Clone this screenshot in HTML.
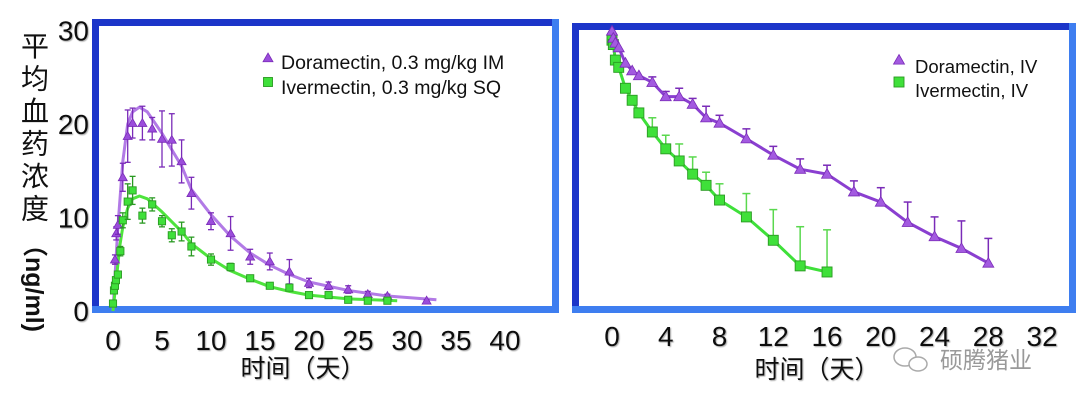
<!DOCTYPE html>
<html><head><meta charset="utf-8"><style>
body{margin:0;background:#fff;width:1080px;height:407px;overflow:hidden}
svg{display:block}
text{font-family:"Liberation Sans","Noto Sans CJK SC",sans-serif}
</style></head><body>
<svg id="c" width="1080" height="407" viewBox="0 0 1080 407">
<defs><filter id="sh" x="-20%" y="-20%" width="140%" height="140%"><feDropShadow dx="1" dy="1" stdDeviation="0.6" flood-color="#888" flood-opacity="0.7"/></filter></defs>
<g id="left"></g>
<g id="right"></g>
</svg>
<script>
// ---- Left chart data (IM / SQ) ----
const L_xTicks=[0,5,10,15,20,25,30,35,40];
const L_yTicks=[0,10,20,30];
const doraT=[0.2,0.33,0.5,1,1.5,2,3,4,5,6,7,8,10,12,14,16,18,20,22,24,26,28,32];
const doraV=[5.5,8.3,9.2,14.3,18.7,20.1,20.1,19.5,18.4,18.3,16,12.6,9.6,8.3,5.8,5.3,4.2,3,2.7,2.3,1.8,1.6,1.1];
const doraE=[0.5,0.7,1,1.5,2.8,1.6,1.8,1.2,3,2.8,2.3,1.7,0.9,1.8,0.8,0.9,1.3,0.5,0.4,0.4,0.3,0.2,0.1];
const iverT=[0,0.1,0.2,0.3,0.5,0.75,1,1.5,2,3,4,5,6,7,8,10,12,14,16,18,20,22,24,26,28];
const iverV=[0.8,2.2,2.7,3.3,3.9,6.4,9.7,11.7,12.9,10.2,11.4,9.6,8.1,8.5,6.9,5.5,4.7,3.5,2.7,2.5,1.7,1.7,1.2,1.1,1.1];
const iverE=[0.1,0.2,0.2,0.3,0.3,0.5,0.8,1.9,1.5,0.8,0.7,0.6,0.7,1.0,1.0,0.6,0.4,0.2,0.1,0.1,0.1,0.1,0.1,0.1,0.1];
const doraFitT=[0,0.5,1,1.5,2,2.7,3.5,5,7,8,10,12,14,16,18,20,24,28,33];
const doraFitV=[0,9,16,20,21.3,21.8,21.3,19,15.5,13,10.3,8,6.2,4.9,3.9,3.1,2.2,1.6,1.2];
const iverFitT=[0,0.3,0.7,1,1.5,2,2.7,3.5,5,7,8,10,12,14,16,18,20,24,29];
const iverFitV=[0,3,7,9,11,12,12.3,12,10.6,8.5,7.2,5.6,4.3,3.4,2.6,2.1,1.7,1.3,1.1];
// ---- Right chart data (IV, log scale) ----
const R_xTicks=[0,4,8,12,16,20,24,28,32];
const doraIvT=[0,0.1,0.25,0.5,1,1.5,2,3,4,5,6,7,8,10,12,14,16,18,20,22,24,26,28];
const doraIvV=[100,89,82,76,59,52,48,43,34,34,30,24,22,17,13,10.3,9.5,7.1,6.0,4.3,3.4,2.8,2.2];
const doraIvUp=[null,null,null,null,null,null,null,47,37,39,33,29,25,20,15,12.2,11,8.5,7.6,6,4.7,4.4,3.3];
const iverIvT=[0,0.1,0.25,0.5,1,1.5,2,3,4,5,6,7,8,10,12,14,16];
const iverIvV=[86,80,62,55,39,32,26,19,14.4,11.8,9.5,7.9,6.2,4.7,3.2,2.1,1.9];
const iverIvUp=[null,null,null,null,null,null,null,24,18,15.6,12.6,9.8,8.1,6.9,5.3,4.0,3.8];

const NS="http://www.w3.org/2000/svg";
function mk(p,tag,a){const e=document.createElementNS(NS,tag);for(const k in a)e.setAttribute(k,a[k]);p.appendChild(e);return e;}
const PUR="#9b4ddb",PURD="#7a2bb8",GRN="#3fe03a",GRND="#2a9a22";

function frame(g,x0,y0,x1,y1){
  mk(g,'rect',{x:x0,y:y0,width:x1-x0,height:y1-y0,fill:'#fff'});
  const f=mk(g,'path',{d:`M${x0+3.5} ${y1-3.5}V${y0+3.5}H${x1-3.5}`,fill:'none',stroke:'#1c35c9','stroke-width':7});
  
  const b=mk(g,'path',{d:`M${x0} ${y1-3.5}H${x1-3.5}V${y0}`,fill:'none',stroke:'#3e7ef0','stroke-width':7});
  
}
function tri(g,x,y,c,s){return mk(g,'path',{d:`M${x} ${y-s}L${x+s} ${y+s*0.75}L${x-s} ${y+s*0.75}Z`,fill:c,stroke:PURD,'stroke-width':0.8});}
function sq(g,x,y,s){return mk(g,'rect',{x:x-s,y:y-s,width:2*s,height:2*s,fill:GRN,stroke:GRND,'stroke-width':0.9});}

// LEFT
const gl=document.getElementById('left');
frame(gl,92,19,559,313);
const lx=t=>113+t*9.8, ly=v=>311-v*9.35;
L_yTicks.forEach(v=>{const t=mk(gl,'text',{x:89,y:ly(v)+10,'text-anchor':'end','font-size':28,fill:'#111',filter:'url(#sh)'});t.textContent=v;
 });
L_xTicks.forEach(v=>{const t=mk(gl,'text',{x:lx(v),y:350,'text-anchor':'middle','font-size':28,fill:'#111',filter:'url(#sh)'});t.textContent=v;
 });
function curve(g,T,V,c,fx,fy,name){const p=mk(g,'polyline',{points:T.map((t,i)=>fx(t)+','+fy(V[i])).join(' '),fill:'none',stroke:c,'stroke-width':3,'stroke-linejoin':'round'});
 }
curve(gl,doraFitT,doraFitV,'#b27ae6',lx,ly,'doramectin-fit-curve');
curve(gl,iverFitT,iverFitV,'#4ee43c',lx,ly,'ivermectin-fit-curve');
function ebar(g,x,y1,y2,c){mk(g,'line',{x1:x,y1:y1,x2:x,y2:y2,stroke:c,'stroke-width':1.3});
 mk(g,'line',{x1:x-3,y1:y1,x2:x+3,y2:y1,stroke:c,'stroke-width':1.3});mk(g,'line',{x1:x-3,y1:y2,x2:x+3,y2:y2,stroke:c,'stroke-width':1.3});}
doraT.forEach((t,i)=>{ebar(gl,lx(t),ly(doraV[i]+doraE[i]),ly(doraV[i]-doraE[i]),PURD);
 const m=tri(gl,lx(t),ly(doraV[i]),PUR,4.5);});
iverT.forEach((t,i)=>{ebar(gl,lx(t),ly(iverV[i]+iverE[i]),ly(iverV[i]-iverE[i]),GRND);
 const m=sq(gl,lx(t),ly(iverV[i]),3.6);});
// legend left
let lg=mk(gl,'g',{});
tri(lg,268,58,PUR,5);
let tt=mk(lg,'text',{x:281,y:69,'font-size':19.5,fill:'#111'});tt.textContent='Doramectin, 0.3 mg/kg IM';
sq(lg,268,82,4.5);
tt=mk(lg,'text',{x:281,y:94,'font-size':19.5,fill:'#111'});tt.textContent='Ivermectin, 0.3 mg/kg SQ';
// y axis title
let yt=mk(gl,'g',{});
['平','均','血','药','浓','度'].forEach((ch,i)=>{const t=mk(yt,'text',{x:35,y:56+i*32.5,'text-anchor':'middle','font-size':28,fill:'#111','font-family':'"Noto Serif CJK SC","Noto Sans CJK SC",serif'});t.textContent=ch;});
let u=mk(yt,'text',{x:0,y:0,transform:'translate(26,282) rotate(90)','text-anchor':'middle','font-size':25,'font-weight':'bold',fill:'#111','font-family':'"Liberation Serif","Noto Serif CJK SC",serif'});u.textContent='（ng/ml)';
let xt=mk(gl,'text',{x:303,y:377,'text-anchor':'middle','font-size':25,fill:'#111',filter:'url(#sh)'});xt.textContent='时间（天）';


// RIGHT
const gr=document.getElementById('right');
frame(gr,572,23,1076,313);
const rx=t=>612+t*13.44, ry=v=>311-Math.log10(v)*140;
R_xTicks.forEach(v=>{const t=mk(gr,'text',{x:rx(v),y:346,'text-anchor':'middle','font-size':28,fill:'#111',filter:'url(#sh)'});t.textContent=v;
 });
function series(T,V,UP,c,cd,name,marker){
 T.forEach((t,i)=>{if(UP[i]!=null){mk(gr,'line',{x1:rx(t),y1:ry(UP[i]),x2:rx(t),y2:ry(V[i]),stroke:cd,'stroke-width':1.5});
  mk(gr,'line',{x1:rx(t)-4,y1:ry(UP[i]),x2:rx(t)+4,y2:ry(UP[i]),stroke:cd,'stroke-width':1.5});}});
 const p=mk(gr,'polyline',{points:T.map((t,i)=>rx(t)+','+ry(V[i])).join(' '),fill:'none',stroke:c,'stroke-width':3});
 
 T.forEach((t,i)=>{const m=marker(rx(t),ry(V[i]));});
}
series(iverIvT,iverIvV,iverIvUp,GRN,'#5ad84e','ivermectin-iv',(x,y)=>sq(gr,x,y,5));
series(doraIvT,doraIvV,doraIvUp,'#8a3fd0',PURD,'doramectin-iv',(x,y)=>tri(gr,x,y,'#a35ae0',5.5));
let lg2=mk(gr,'g',{});
tri(lg2,899,60,'#a35ae0',5.5);
tt=mk(lg2,'text',{x:915,y:73,'font-size':18.5,fill:'#111'});tt.textContent='Doramectin, IV';
sq(lg2,899,82,5);
tt=mk(lg2,'text',{x:915,y:97,'font-size':18.5,fill:'#111'});tt.textContent='Ivermectin, IV';
xt=mk(gr,'text',{x:817,y:378,'text-anchor':'middle','font-size':25,fill:'#111',filter:'url(#sh)'});xt.textContent='时间（天）';

// watermark
let wm=mk(gr,'g',{});
mk(wm,'ellipse',{cx:905,cy:357,rx:11,ry:9,fill:'none',stroke:'#aaa','stroke-width':1.5});
mk(wm,'ellipse',{cx:918,cy:364,rx:9,ry:7,fill:'#fff',stroke:'#aaa','stroke-width':1.5});
tt=mk(wm,'text',{x:940,y:368,'font-size':23,fill:'#999'});tt.textContent='硕腾猪业';
</script>
</body></html>
